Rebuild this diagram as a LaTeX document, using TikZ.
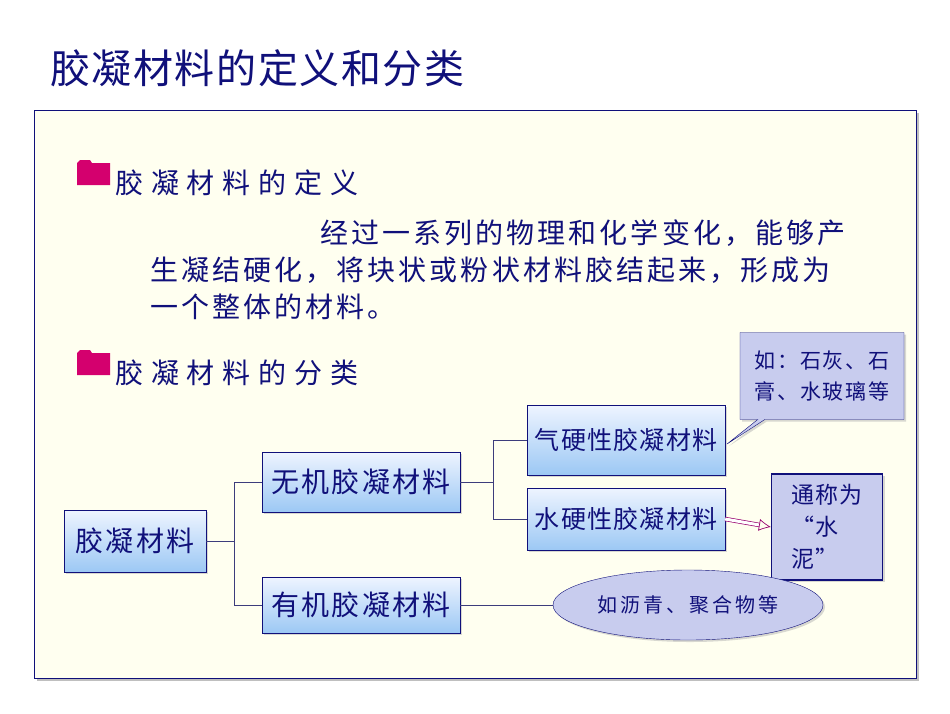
\documentclass[tikz,border=0pt]{standalone}
\usepackage{fontspec}
\newfontfamily\cjk{Noto Sans CJK SC}
\newcommand{\ls}[1]{\addfontfeatures{LetterSpace=#1}}
\usetikzlibrary{shapes.geometric,shapes.callouts,shadows,arrows.meta}
\definecolor{navy}{HTML}{10107A}
\definecolor{panel}{HTML}{FFFFF0}
\definecolor{mag}{HTML}{D4006E}
\definecolor{btop}{HTML}{EEF4FF}
\definecolor{bbot}{HTML}{9CC8F4}
\definecolor{tex}{HTML}{C8CCEE}
\tikzset{
 blbox/.style={draw=navy,top color=btop,bottom color=bbot,drop shadow={shadow xshift=2pt,shadow yshift=-2pt,fill=gray!60},text=navy,font=\cjk\fontsize{28}{30}\selectfont\ls{8},inner sep=0pt},
 texbox/.style={draw=navy,fill=tex,drop shadow={shadow xshift=2pt,shadow yshift=-2pt,fill=gray!60},text=navy},
 link/.style={draw=navy!60!gray,line width=0.7pt},
 folder/.style={fill=mag,draw=none},
 head/.style={text=navy,font=\cjk\fontsize{28}{30}\selectfont\ls{28},anchor=west,inner sep=0pt},
 para/.style={text=navy,font=\cjk\fontsize{28}{30}\selectfont\ls{11},anchor=west,inner sep=0pt}
}
\begin{document}
\begin{tikzpicture}[x=1pt,y=-1pt]
\useasboundingbox (0,0) rectangle (950,713);
\fill[white] (0,0) rectangle (950,713);
\node[anchor=west,text=navy,font=\cjk\fontsize{40}{42}\selectfont\ls{4},inner sep=0pt] (title) at (50,68) {胶凝材料的定义和分类};
\fill[gray!50] (37,113) rectangle (919,681);
\draw[navy,fill=panel] (34,110) rectangle (916,678);
\fill[folder] (77,163) -- (80,160) -- (90,160) -- (92,163) -- (110,163) -- (110,185) -- (77,185) -- cycle;
\node[head] (h1) at (115,183) {胶凝材料的定义};
\node[para] (p1) at (320,233) {经过一系列的物理和化学变化，能够产};
\node[para] (p2) at (150,270) {生凝结硬化，将块状或粉状材料胶结起来，形成为};
\node[para] (p3) at (150,307) {一个整体的材料。};
\fill[folder] (77,353) -- (80,350) -- (90,350) -- (92,353) -- (110,353) -- (110,375) -- (77,375) -- cycle;
\node[head] (h2) at (115,373) {胶凝材料的分类};
\node[blbox,minimum width=142pt,minimum height=62pt] (root) at (135,541) {胶凝材料};
\node[blbox,minimum width=198pt,minimum height=60pt] (wj) at (361,482) {无机胶凝材料};
\node[blbox,minimum width=198pt,minimum height=56pt] (yj) at (361,605) {有机胶凝材料};
\node[blbox,minimum width=198pt,minimum height=70pt,font=\cjk\fontsize{25}{27}\selectfont\ls{5}] (qy) at (626,440) {气硬性胶凝材料};
\node[blbox,minimum width=198pt,minimum height=62pt,font=\cjk\fontsize{25}{27}\selectfont\ls{5}] (sy) at (626,519) {水硬性胶凝材料};
\node[texbox,rectangle callout,minimum width=164pt,minimum height=87pt,callout absolute pointer={(727,444)},align=left,font=\cjk\fontsize{21}{30}\selectfont\ls{8}] (cb) at (822,376) {如：石灰、石\\膏、水玻璃等};
\node[texbox,draw=navy,line width=1.2pt,minimum width=111pt,minimum height=106pt,align=left,font=\cjk\fontsize{23}{32}\selectfont\ls{5}] (tc) at (827,527) {通称为\\“水\\泥”};
\node[texbox,ellipse,minimum width=270pt,minimum height=70pt,font=\cjk\fontsize{20}{22}\selectfont\ls{15}] (el) at (688,605) {如沥青、聚合物等};
\coordinate (j1) at (234,541);
\coordinate (j2) at (493,482);
\draw[link] (root.east) -- (j1) |- (wj.west);
\draw[link] (j1) |- (yj.west);
\draw[link] (wj.east) -- (j2) |- (qy.west);
\draw[link] (j2) |- (sy.west);
\draw[link] (yj.east) -- (el.west);
\draw[draw=mag!70!navy,double=white,double distance=3pt,line width=0.7pt,-{Latex[open,length=12pt,width=12pt]}] (sy.east) -- (tc.west);
\end{tikzpicture}
\end{document}
